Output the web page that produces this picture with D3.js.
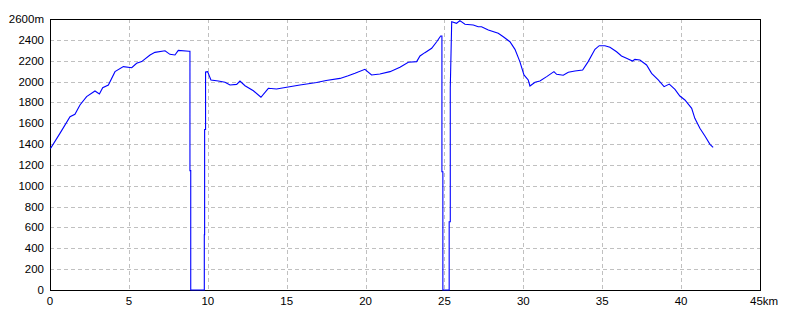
<!DOCTYPE html>
<html>
<head>
<meta charset="utf-8">
<script src="https://cdn.jsdelivr.net/npm/d3@7"></script>
<style>
  body { margin: 0; background: #fff; }
  text { font-family: "Liberation Sans", Arial, sans-serif; font-size: 11.5px; fill: #000; }
</style>
</head>
<body>
<svg id="chart" width="800" height="320"></svg>
<script>
// distance along the route (km) and elevation (m)
var km = [0, 0.06, 0.63, 1.27, 1.58, 1.90, 2.32, 2.85, 3.13, 3.34, 3.70, 4.12, 4.65, 5.18, 5.49, 5.81,
  6.34, 6.65, 7.29, 7.60, 7.92, 8.13, 8.81, 8.87, 8.87, 8.92, 8.92,
  9.78, 9.78, 9.80, 9.80, 9.86, 9.86, 9.99, 10.20, 10.67, 11.09, 11.41, 11.83, 12.04, 12.36, 12.89,
  13.37, 13.84, 14.36, 15.0, 15.84, 16.27, 16.9, 17.5, 18.38, 18.9, 19.33, 19.96, 20.38, 20.91, 21.55, 22.18, 22.71,
  23.24, 23.45, 23.76, 24.19, 24.51, 24.76, 24.84, 24.84, 24.90, 24.90,
  25.30, 25.30, 25.37, 25.37, 25.46, 25.77, 25.98, 26.30, 26.83, 27.14, 27.35, 27.78, 28.41, 28.73,
  29.15, 29.47, 29.78, 30.04, 30.31, 30.42, 30.74, 31.05, 31.48, 31.94, 32.11, 32.53, 32.85, 33.27,
  33.76, 34.11, 34.54, 34.81, 35.17, 35.49, 35.91, 36.22, 36.54, 36.92, 37.07, 37.39, 37.81, 38.13,
  38.55, 38.92, 39.25, 39.61, 39.92, 40.24, 40.67, 40.87, 41.19, 41.51, 41.83, 42.03];
var elevation = [1360, 1365, 1503, 1663, 1686, 1775, 1855, 1909, 1880, 1941, 1967, 2095, 2143, 2133, 2175, 2191,
  2255, 2280, 2295, 2261, 2255, 2299, 2290, 2290, 1145, 1145, 0,
  0, 530, 530, 1540, 1540, 2091, 2095, 2015, 2005, 1993, 1967, 1973, 2005, 1960, 1912,
  1849, 1935, 1928, 1945, 1967, 1976, 1990, 2010, 2030, 2055, 2079, 2117, 2063, 2072, 2095, 2137, 2185,
  2191, 2245, 2277, 2319, 2382, 2437, 2437, 1135, 1135, 0,
  0, 655, 655, 1941, 2574, 2559, 2584, 2549, 2542, 2526, 2526, 2494, 2463, 2430,
  2382, 2309, 2191, 2063, 2015, 1957, 1993, 2005, 2047, 2095, 2069, 2060, 2089, 2101,
  2111, 2191, 2309, 2344, 2344, 2328, 2286, 2245, 2223, 2197, 2213, 2207, 2159, 2079,
  2015, 1951, 1976, 1925, 1861, 1823, 1743, 1647, 1551, 1477, 1397, 1369];

var xTicks = [0, 5, 10, 15, 20, 25, 30, 35, 40, 45];
var yTicks = [0, 200, 400, 600, 800, 1000, 1200, 1400, 1600, 1800, 2000, 2200, 2400, 2600];

var plotLeft = 50, plotRight = 760, plotTop = 19, plotBottom = 290;
var svg = d3.select("#chart");

var x = d3.scaleLinear().domain([0, 45]).range([plotLeft, plotRight]);
var y = d3.scaleLinear().domain([0, 2600]).range([plotBottom, plotTop]);

// dashed grid
svg.append("g").selectAll("line")
  .data(yTicks.filter(function (d) { return d > 0 && d < 2600; }))
  .enter().append("line")
  .attr("x1", plotLeft).attr("x2", plotRight)
  .attr("y1", function (d) { return Math.round(y(d)) + 0.5; })
  .attr("y2", function (d) { return Math.round(y(d)) + 0.5; })
  .attr("stroke", "#c0c0c0").attr("stroke-dasharray", "4,3")
  .attr("shape-rendering", "crispEdges");

svg.append("g").selectAll("line")
  .data(xTicks.filter(function (d) { return d > 0 && d < 45; }))
  .enter().append("line")
  .attr("y1", plotTop).attr("y2", plotBottom)
  .attr("x1", function (d) { return Math.round(x(d)) + 0.5; })
  .attr("x2", function (d) { return Math.round(x(d)) + 0.5; })
  .attr("stroke", "#c0c0c0").attr("stroke-dasharray", "4,3")
  .attr("shape-rendering", "crispEdges");

// frame
svg.append("rect")
  .attr("x", plotLeft + 0.5).attr("y", plotTop + 0.5)
  .attr("width", plotRight - plotLeft).attr("height", plotBottom - plotTop)
  .attr("fill", "none").attr("stroke", "#000")
  .attr("shape-rendering", "crispEdges");

// profile line
var line = d3.line()
  .x(function (d) { return x(d[0]); })
  .y(function (d) { return y(d[1]); });

svg.append("path")
  .datum(d3.zip(km, elevation))
  .attr("d", line)
  .attr("fill", "none")
  .attr("stroke", "#0000ff")
  .attr("stroke-width", 1.1);

// y labels
svg.append("g").selectAll("text")
  .data(yTicks)
  .enter().append("text")
  .attr("x", 44)
  .attr("y", function (d) { return y(d) + 4; })
  .attr("text-anchor", "end")
  .text(function (d) { return d === 2600 ? d + "m" : d; });

// x labels
svg.append("g").selectAll("text")
  .data(xTicks)
  .enter().append("text")
  .attr("x", function (d) { return d === 45 ? x(d) - 10 : x(d); })
  .attr("y", 305)
  .attr("text-anchor", function (d) { return d === 45 ? "start" : "middle"; })
  .text(function (d) { return d === 45 ? d + "km" : d; });
</script>
</body>
</html>
